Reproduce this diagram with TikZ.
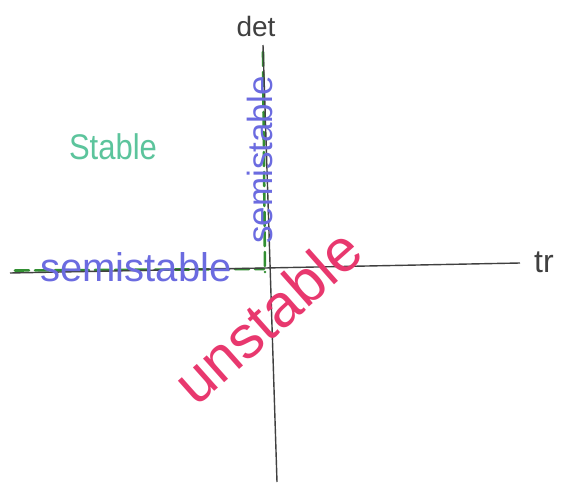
\documentclass[tikz,border=0pt]{standalone}
\usepackage{fontspec}
\setmainfont{Liberation Sans}
\begin{document}
\begin{tikzpicture}[x=1pt,y=-1pt,
  axis/.style={draw=black!75,line width=1.4pt},
  semi/.style={draw=green!45!black!80,line width=2.6pt,dash pattern=on 14pt off 6pt,line cap=round},
  lbl/.style={inner sep=0pt,anchor=center}]
\definecolor{stabc}{HTML}{5CC49C}
\definecolor{semic}{HTML}{6B6BE0}
\definecolor{unstc}{HTML}{E8386E}
\useasboundingbox (0,0) rectangle (563,485);
% axes
\coordinate (xl) at (10,273);
\coordinate (xr) at (520,263);
\coordinate (yt) at (263,45);
\coordinate (yb) at (277,482);
\coordinate (o) at (269,268);
\coordinate (hs) at (15,270.5);
\coordinate (vs) at (263,52);
% green semistable boundary
\draw[semi] (hs) -- ([xshift=-5pt,yshift=-1pt]o);
\draw[semi] (vs) -- ([xshift=-4pt,yshift=-4pt]o);
\draw[axis] (xl) -- (xr);
\draw[axis] (yt) -- (yb);
% labels
\node[lbl,text=black!75,font=\fontsize{28}{30}\selectfont] (det) at (256,26) {det};
\node[lbl,text=black!75,font=\fontsize{32}{34}\selectfont] (tr) at (544,262) {tr};
\node[lbl,text=stabc,font=\fontsize{31}{33}\selectfont,yscale=1.15] (stab) at (113,147) {Stable};
\node[lbl,text=semic,font=\fontsize{40}{42}\selectfont] (semih) at (136,267) {semistable};
\node[lbl,text=semic,font=\fontsize{35}{37}\selectfont,rotate=90] (semiv) at (260,160) {semistable};
\node[lbl,text=unstc,font=\fontsize{60}{62}\selectfont,rotate=41.6] (unst) at (267,316) {unstable};
\end{tikzpicture}
\end{document}
